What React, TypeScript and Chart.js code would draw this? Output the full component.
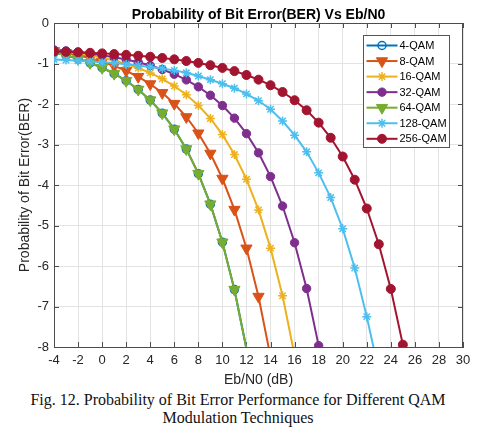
import React, { useEffect, useRef } from 'react';
import { Chart, registerables } from 'chart.js';
import { drawPoint } from 'chart.js/helpers';

Chart.register(...registerables);

// Eb/N0 in dB (x values, one per marker)
const ebN0 = [-4, -3, -2, -1, 0, 1, 2, 3, 4, 5, 6, 7, 8, 9, 10, 11, 12, 13, 14, 15, 16, 17, 18, 19, 20, 21, 22, 23, 24, 25, 26];

// log10(BER), starting at Eb/N0 = -4 dB, 1 dB apart
const qam4 = [-0.73, -0.8, -0.884, -0.984, -1.105, -1.25, -1.426, -1.641, -1.904, -2.226, -2.622, -3.112, -3.72, -4.473, -5.413, -6.583, -8.047];
const qam8 = [-0.689, -0.74, -0.8, -0.87, -0.956, -1.058, -1.18, -1.327, -1.507, -1.725, -1.992, -2.32, -2.722, -3.221, -3.84, -4.607, -5.563, -6.755, -8.244];
const qam16 = [-0.669, -0.705, -0.747, -0.797, -0.857, -0.926, -1.011, -1.112, -1.232, -1.378, -1.556, -1.771, -2.035, -2.358, -2.756, -3.249, -3.859, -4.615, -5.559, -6.735, -8.205];
const qam32 = [-0.663, -0.688, -0.719, -0.754, -0.795, -0.844, -0.901, -0.969, -1.05, -1.148, -1.264, -1.405, -1.576, -1.784, -2.038, -2.349, -2.732, -3.206, -3.792, -4.52, -5.426, -6.556, -7.966, -9.73];
const qam64 = [-0.73, -0.8, -0.884, -0.984, -1.105, -1.25, -1.426, -1.641, -1.904, -2.226, -2.622, -3.112, -3.72, -4.473, -5.413, -6.583, -8.047];
const qam128 = [-0.9, -0.915, -0.93, -0.95, -0.97, -0.99, -1.02, -1.05, -1.085, -1.125, -1.17, -1.23, -1.31, -1.4, -1.5, -1.61, -1.75, -1.92, -2.13, -2.42, -2.77, -3.18, -3.7, -4.31, -5.08, -6.05, -7.25, -8.6];
const qam256 = [-0.703, -0.712, -0.723, -0.736, -0.75, -0.767, -0.786, -0.808, -0.833, -0.863, -0.898, -0.938, -0.986, -1.042, -1.109, -1.188, -1.284, -1.399, -1.536, -1.704, -1.907, -2.155, -2.46, -2.834, -3.297, -3.869, -4.58, -5.463, -6.566, -7.942, -9.63];

const seriesLabels = ['4-QAM', '8-QAM', '16-QAM', '32-QAM', '64-QAM', '128-QAM', '256-QAM'];
const seriesValues = [qam4, qam8, qam16, qam32, qam64, qam128, qam256];
const seriesColors = ['#0072BD', '#D95319', '#EDB120', '#7E2F8E', '#77AC30', '#4DBEEE', '#A2142F'];

type Marker = { style: string; radius: number; rotation: number; fill: boolean; border: number };
const markers: Marker[] = [
  { style: 'circle', radius: 4, rotation: 0, fill: false, border: 1.5 },
  { style: 'triangle', radius: 6.5, rotation: 180, fill: true, border: 1 },
  { style: 'star', radius: 4.5, rotation: 0, fill: false, border: 1.5 },
  { style: 'circle', radius: 4.2, rotation: 0, fill: true, border: 1 },
  { style: 'triangle', radius: 6.5, rotation: 180, fill: true, border: 1 },
  { style: 'star', radius: 4.5, rotation: 0, fill: false, border: 1.5 },
  { style: 'circle', radius: 4.5, rotation: 0, fill: true, border: 1 },
];

const FONT = '"Liberation Sans", Arial, Helvetica, sans-serif';
const TEXT = '#262626';

const framePlugin = {
  id: 'frame',
  beforeDatasetsDraw(chart: any) {
    const { ctx, chartArea: a, scales } = chart;
    const x = scales.x;
    const y = scales.y;
    ctx.save();
    ctx.strokeStyle = '#4d4d4d';
    ctx.lineWidth = 1;
    ctx.beginPath();
    const tl = 5;
    x.ticks.forEach((t: any) => {
      const px = Math.round(x.getPixelForValue(t.value)) + 0.5;
      ctx.moveTo(px, a.bottom);
      ctx.lineTo(px, a.bottom - tl);
      ctx.moveTo(px, a.top);
      ctx.lineTo(px, a.top + tl);
    });
    y.ticks.forEach((t: any) => {
      const py = Math.round(y.getPixelForValue(t.value)) + 0.5;
      ctx.moveTo(a.left, py);
      ctx.lineTo(a.left + tl, py);
      ctx.moveTo(a.right, py);
      ctx.lineTo(a.right - tl, py);
    });
    ctx.moveTo(a.left, Math.round(a.top) + 0.5);
    ctx.lineTo(a.right, Math.round(a.top) + 0.5);
    ctx.moveTo(Math.round(a.right) - 0.5, a.top);
    ctx.lineTo(Math.round(a.right) - 0.5, a.bottom);
    ctx.stroke();
    ctx.restore();
  },
};

const legendPlugin = {
  id: 'insideLegend',
  afterDatasetsDraw(chart: any) {
    const { ctx, chartArea: a } = chart;
    const w = 86;
    const h = 112;
    const left = Math.round(a.right - 14 - w) + 0.5;
    const top = Math.round(a.top + 12) + 0.5;
    ctx.save();
    ctx.fillStyle = '#ffffff';
    ctx.fillRect(left, top, w, h);
    ctx.strokeStyle = '#555555';
    ctx.lineWidth = 1;
    ctx.strokeRect(left, top, w, h);
    const rowH = 15.55;
    seriesLabels.forEach((label, i) => {
      const cy = top + 10 + i * rowH;
      const color = seriesColors[i];
      const m = markers[i];
      ctx.strokeStyle = color;
      ctx.lineWidth = 2;
      ctx.beginPath();
      ctx.moveTo(left + 3, cy);
      ctx.lineTo(left + 34, cy);
      ctx.stroke();
      ctx.fillStyle = m.fill ? color : 'rgba(0,0,0,0)';
      ctx.strokeStyle = color;
      ctx.lineWidth = m.border;
      drawPoint(ctx, { pointStyle: m.style as any, rotation: m.rotation, radius: m.radius, borderWidth: m.border }, left + 18.5, cy);
      ctx.fillStyle = '#000000';
      ctx.font = `11px ${FONT}`;
      ctx.textAlign = 'left';
      ctx.textBaseline = 'middle';
      ctx.fillText(label, left + 36, cy + 0.5);
    });
    ctx.restore();
  },
};

export default function App() {
  const canvasRef = useRef<HTMLCanvasElement | null>(null);

  useEffect(() => {
    if (!canvasRef.current) return;
    const datasets = seriesValues.map((vals, i) => ({
      label: seriesLabels[i],
      data: vals.map((v, j) => ({ x: ebN0[j], y: v })),
      borderColor: seriesColors[i],
      backgroundColor: seriesColors[i],
      borderWidth: 2,
      pointStyle: markers[i].style,
      pointRotation: markers[i].rotation,
      pointRadius: (c: any) => (c.raw && c.raw.y < -8 ? 0 : markers[i].radius),
      pointBorderWidth: markers[i].border,
      pointBorderColor: seriesColors[i],
      pointBackgroundColor: markers[i].fill ? seriesColors[i] : 'rgba(0,0,0,0)',
      tension: 0,
      order: seriesLabels.length - i,
    }));

    const chart = new Chart(canvasRef.current, {
      type: 'line',
      data: { datasets },
      plugins: [framePlugin, legendPlugin],
      options: {
        animation: false,
        responsive: false,
        maintainAspectRatio: false,
        layout: { padding: { left: 0, right: 9, top: 0, bottom: 0 } },
        plugins: {
          legend: { display: false },
          tooltip: { enabled: false },
          title: {
            display: true,
            text: 'Probability of Bit Error(BER) Vs Eb/N0',
            fullSize: false,
            color: '#000000',
            font: { family: FONT, size: 14, weight: 'bold', lineHeight: 1 },
            padding: { top: 0, bottom: 1 },
          },
        },
        scales: {
          x: {
            type: 'linear',
            min: -4,
            max: 30,
            afterFit: (s: any) => { s.height = 44; s.paddingLeft = 0; s.paddingRight = 0; },
            ticks: { stepSize: 2, color: TEXT, font: { family: FONT, size: 13 }, padding: 6, maxRotation: 0 },
            grid: { color: '#e3e3e3', drawTicks: false },
            border: { color: '#4d4d4d', width: 1 },
            title: {
              display: true,
              text: 'Eb/N0 (dB)',
              color: TEXT,
              font: { family: FONT, size: 14 },
              padding: { top: 0, bottom: 2.6 },
            },
          },
          y: {
            type: 'linear',
            min: -8,
            max: 0,
            afterFit: (s: any) => { s.width = 46; s.paddingTop = 0; s.paddingBottom = 0; },
            ticks: { stepSize: 1, color: TEXT, font: { family: FONT, size: 13 }, padding: 5 },
            grid: { color: '#e3e3e3', drawTicks: false },
            border: { color: '#4d4d4d', width: 1 },
            title: {
              display: true,
              text: 'Probability of Bit Error(BER)',
              color: TEXT,
              font: { family: FONT, size: 14 },
              padding: { top: 8.6, bottom: 0 },
            },
          },
        },
      },
    } as any);

    return () => chart.destroy();
  }, []);

  return (
    <div style={{ width: 464 }}>
      <div style={{ position: 'relative', width: 464, height: 383 }}>
        <canvas ref={canvasRef} width={464} height={383} style={{ display: 'block' }} />
      </div>
      <div
        style={{
          fontFamily: '"Liberation Serif", "Times New Roman", serif',
          fontSize: 16,
          lineHeight: '18px',
          textAlign: 'center',
          color: '#111111',
          paddingRight: 4,
        }}
      >
        Fig. 12. Probability of Bit Error Performance for Different QAM
        <br />
        Modulation Techniques
      </div>
    </div>
  );
}
